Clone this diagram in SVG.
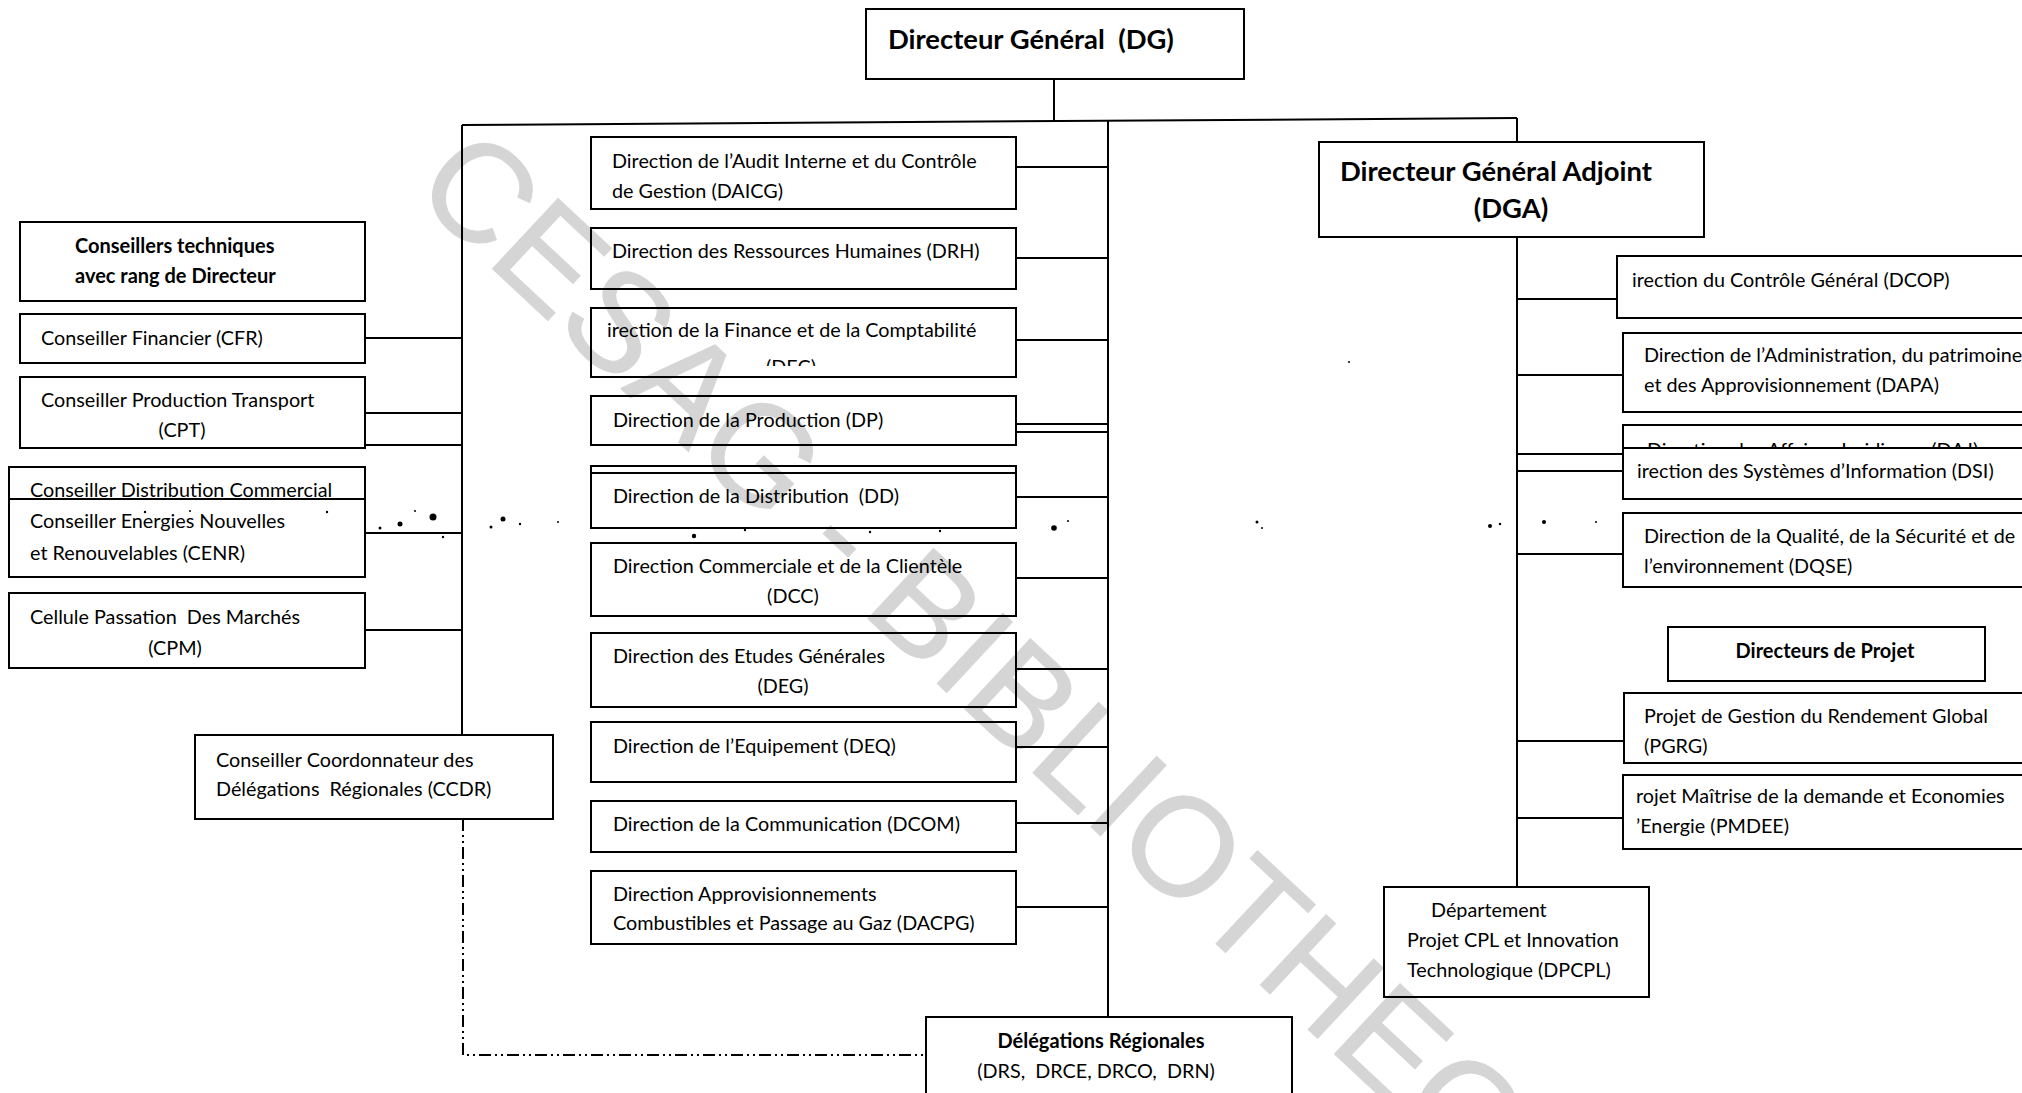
<svg xmlns="http://www.w3.org/2000/svg" width="2022" height="1093" viewBox="0 0 2022 1093">
  <style>
    .t { font-family: Lato, "Liberation Sans", "DejaVu Sans", sans-serif; font-size: 19.8px; fill: #000; white-space: pre; }
    .b { font-weight: bold; font-size: 20px; }
    .big { font-size: 27.4px; }
    .mid { text-anchor: middle; }
    .box { fill: #fff; stroke: #000; stroke-width: 2; }
    .ln { stroke: #000; stroke-width: 2; fill: none; }
    .dd { stroke: #000; stroke-width: 2; fill: none; stroke-dasharray: 12 4 2 4 2 4; }
    .wm { font-family: "Liberation Sans", Arial, sans-serif; font-size: 140px; fill: #000; stroke: #000; stroke-width: 1; white-space: pre; }
    .speck { fill: #000; }
  </style>
  <defs>
    <clipPath id="clipDFC"><rect x="592" y="300" width="423" height="66"/></clipPath>
  </defs>
  <rect width="2022" height="1093" fill="#fff"/>

  <!-- connectors -->
  <g id="connectors">
    <!-- DG stub and top rail -->
    <path class="ln" d="M1054 79 V122"/>
    <path class="ln" d="M462 125 L1517 118"/>
    <!-- DGA trunk -->
    <path class="ln" d="M1517 118 V142"/>
    <path class="ln" d="M1517 237 V887"/>
    <!-- central directions bus -->
    <path class="ln" d="M1108 121 V1017"/>
    <!-- advisers bus -->
    <path class="ln" d="M462 125 V735"/>
    <!-- advisers branches -->
    <path class="ln" d="M365 338 H462"/>
    <path class="ln" d="M365 413 H462"/>
    <path class="ln" d="M365 445 H462"/>
    <path class="ln" d="M365 533 H462"/>
    <path class="ln" d="M365 630 H462"/>
    <!-- directions branches -->
    <path class="ln" d="M1016 167 H1108"/>
    <path class="ln" d="M1016 258 H1108"/>
    <path class="ln" d="M1016 340 H1108"/>
    <path class="ln" d="M1016 424 H1108"/>
    <path class="ln" d="M1016 432 H1108"/>
    <path class="ln" d="M1016 497 H1108"/>
    <path class="ln" d="M1016 578 H1108"/>
    <path class="ln" d="M1016 669 H1108"/>
    <path class="ln" d="M1016 747 H1108"/>
    <path class="ln" d="M1016 823 H1108"/>
    <path class="ln" d="M1016 907 H1108"/>
    <!-- DGA branches -->
    <path class="ln" d="M1517 299 H1617"/>
    <path class="ln" d="M1517 375 H1623"/>
    <path class="ln" d="M1517 454 H1623"/>
    <path class="ln" d="M1517 471 H1623"/>
    <path class="ln" d="M1517 554 H1623"/>
    <path class="ln" d="M1517 741 H1623"/>
    <path class="ln" d="M1517 818 H1623"/>
    <!-- functional link CCDR to regional delegations -->
    <path class="dd" d="M463 819 V1055 H926"/>
  </g>

  <!-- general management -->
  <g id="dg">
    <rect class="box" x="866" y="9" width="378" height="70"/>
    <text class="t b big" x="888" y="49">Directeur Général  (DG)</text>
  </g>
  <g id="dga">
    <rect class="box" x="1319" y="142" width="385" height="95"/>
    <text class="t b big" x="1340" y="181">Directeur Général Adjoint</text>
    <text class="t b big mid" x="1511" y="218">(DGA)</text>
  </g>

  <!-- advisers -->
  <g id="conseillers">
    <rect class="box" x="20" y="222" width="345" height="79"/>
    <text class="t b" x="75" y="253">Conseillers techniques</text>
    <text class="t b" x="75" y="283">avec rang de Directeur</text>
  </g>
  <g id="cfr">
    <rect class="box" x="20" y="314" width="345" height="49"/>
    <text class="t" x="41" y="345">Conseiller Financier (CFR)</text>
  </g>
  <g id="cpt">
    <rect class="box" x="20" y="377" width="345" height="71"/>
    <text class="t" x="41" y="407">Conseiller Production Transport</text>
    <text class="t mid" x="182" y="437">(CPT)</text>
  </g>
  <g id="cdc">
    <rect class="box" x="9" y="467" width="356" height="80"/>
    <text class="t" x="30" y="497">Conseiller Distribution Commercial</text>
  </g>
  <g id="cenr">
    <rect class="box" x="9" y="499" width="356" height="78"/>
    <text class="t" x="30" y="528">Conseiller Energies Nouvelles</text>
    <text class="t" x="30" y="560">et Renouvelables (CENR)</text>
  </g>
  <g id="cpm">
    <rect class="box" x="9" y="593" width="356" height="75"/>
    <text class="t" x="30" y="624">Cellule Passation  Des Marchés</text>
    <text class="t mid" x="175" y="655">(CPM)</text>
  </g>
  <g id="ccdr">
    <rect class="box" x="195" y="735" width="358" height="84"/>
    <text class="t" x="216" y="767">Conseiller Coordonnateur des</text>
    <text class="t" x="216" y="796">Délégations  Régionales (CCDR)</text>
  </g>

  <!-- central directions -->
  <g id="daicg">
    <rect class="box" x="591" y="137" width="425" height="72"/>
    <text class="t" x="612" y="168">Direction de l’Audit Interne et du Contrôle</text>
    <text class="t" x="612" y="198">de Gestion (DAICG)</text>
  </g>
  <g id="drh">
    <rect class="box" x="591" y="228" width="425" height="61"/>
    <text class="t" x="612" y="258">Direction des Ressources Humaines (DRH)</text>
  </g>
  <g id="dfc">
    <rect class="box" x="591" y="308" width="425" height="69"/>
    <text class="t" x="607" y="337">irection de la Finance et de la Comptabilité</text>
    <text class="t mid" x="791" y="374" clip-path="url(#clipDFC)">(DFC)</text>
  </g>
  <g id="dp">
    <rect class="box" x="591" y="396" width="425" height="49"/>
    <text class="t" x="613" y="427">Direction de la Production (DP)</text>
  </g>
  <g id="dd">
    <rect class="box" x="591" y="466" width="425" height="62"/>
    <path class="ln" d="M591 473 H1016"/>
    <text class="t" x="613" y="503">Direction de la Distribution  (DD)</text>
  </g>
  <g id="dcc">
    <rect class="box" x="591" y="543" width="425" height="73"/>
    <text class="t" x="613" y="573">Direction Commerciale et de la Clientèle</text>
    <text class="t mid" x="793" y="603">(DCC)</text>
  </g>
  <g id="deg">
    <rect class="box" x="591" y="633" width="425" height="74"/>
    <text class="t" x="613" y="663">Direction des Etudes Générales</text>
    <text class="t mid" x="783" y="693">(DEG)</text>
  </g>
  <g id="deq">
    <rect class="box" x="591" y="722" width="425" height="60"/>
    <text class="t" x="613" y="753">Direction de l’Equipement (DEQ)</text>
  </g>
  <g id="dcom">
    <rect class="box" x="591" y="801" width="425" height="51"/>
    <text class="t" x="613" y="831">Direction de la Communication (DCOM)</text>
  </g>
  <g id="dacpg">
    <rect class="box" x="591" y="871" width="425" height="73"/>
    <text class="t" x="613" y="901">Direction Approvisionnements</text>
    <text class="t" x="613" y="930">Combustibles et Passage au Gaz (DACPG)</text>
  </g>
  <g id="delegations">
    <rect class="box" x="926" y="1017" width="366" height="90"/>
    <text class="t b mid" x="1101" y="1048">Délégations Régionales</text>
    <text class="t mid" x="1096" y="1078">(DRS,  DRCE, DRCO,  DRN)</text>
  </g>

  <!-- directions under the DGA -->
  <g id="dcop">
    <rect class="box" x="1617" y="256" width="420" height="62"/>
    <text class="t" x="1632" y="287">irection du Contrôle Général (DCOP)</text>
  </g>
  <g id="dapa">
    <rect class="box" x="1623" y="333" width="420" height="79"/>
    <text class="t" x="1644" y="362">Direction de l’Administration, du patrimoine</text>
    <text class="t" x="1644" y="392">et des Approvisionnement (DAPA)</text>
  </g>
  <g id="daj">
    <rect class="box" x="1623" y="425" width="420" height="60"/>
    <text class="t" x="1647" y="457">Direction des Affaires Juridiques (DAJ)</text>
  </g>
  <g id="dsi">
    <rect class="box" x="1623" y="448" width="420" height="51"/>
    <text class="t" x="1637" y="478">irection des Systèmes d’Information (DSI)</text>
  </g>
  <g id="dqse">
    <rect class="box" x="1623" y="513" width="420" height="74"/>
    <text class="t" x="1644" y="543">Direction de la Qualité, de la Sécurité et de</text>
    <text class="t" x="1644" y="573">l’environnement (DQSE)</text>
  </g>
  <g id="projets">
    <rect class="box" x="1668" y="627" width="317" height="54"/>
    <text class="t b mid" x="1825" y="658">Directeurs de Projet</text>
  </g>
  <g id="pgrg">
    <rect class="box" x="1624" y="693" width="420" height="70"/>
    <text class="t" x="1644" y="723">Projet de Gestion du Rendement Global</text>
    <text class="t" x="1644" y="753">(PGRG)</text>
  </g>
  <g id="pmdee">
    <rect class="box" x="1623" y="775" width="420" height="74"/>
    <text class="t" x="1636" y="803">rojet Maîtrise de la demande et Economies</text>
    <text class="t" x="1636" y="833">’Energie (PMDEE)</text>
  </g>
  <g id="dpcpl">
    <rect class="box" x="1384" y="887" width="265" height="110"/>
    <text class="t" x="1431" y="917">Département</text>
    <text class="t" x="1407" y="947">Projet CPL et Innovation</text>
    <text class="t" x="1407" y="977">Technologique (DPCPL)</text>
  </g>

  <!-- scanning specks -->
  <g id="specks">
    <circle class="speck" cx="433" cy="517" r="3.5"/>
    <circle class="speck" cx="400" cy="524" r="2.5"/>
    <circle class="speck" cx="503" cy="519" r="2.5"/>
    <circle class="speck" cx="491" cy="527" r="1.5"/>
    <circle class="speck" cx="380" cy="528" r="1.5"/>
    <circle class="speck" cx="415" cy="511" r="1"/>
    <circle class="speck" cx="520" cy="524" r="1.2"/>
    <circle class="speck" cx="558" cy="522" r="1"/>
    <circle class="speck" cx="443" cy="537" r="1.2"/>
    <circle class="speck" cx="327" cy="512" r="1.2"/>
    <circle class="speck" cx="145" cy="512" r="1.2"/>
    <circle class="speck" cx="190" cy="511" r="1"/>
    <circle class="speck" cx="694" cy="536" r="2.2"/>
    <circle class="speck" cx="745" cy="530" r="1.2"/>
    <circle class="speck" cx="870" cy="532" r="1.2"/>
    <circle class="speck" cx="940" cy="531" r="1.2"/>
    <circle class="speck" cx="1054" cy="528" r="2.8"/>
    <circle class="speck" cx="1068" cy="521" r="1"/>
    <circle class="speck" cx="1257" cy="522" r="1.5"/>
    <circle class="speck" cx="1262" cy="528" r="1"/>
    <circle class="speck" cx="1490" cy="526" r="2"/>
    <circle class="speck" cx="1500" cy="524" r="1.2"/>
    <circle class="speck" cx="1544" cy="522" r="2"/>
    <circle class="speck" cx="1596" cy="522" r="1"/>
    <circle class="speck" cx="1349" cy="362" r="1"/>
  </g>

  <!-- library stamp -->
  <g opacity="0.16">
    <text class="wm" transform="translate(410 192) rotate(43)">CESAG - BIBLIOTHEQUE</text>
  </g>
</svg>
